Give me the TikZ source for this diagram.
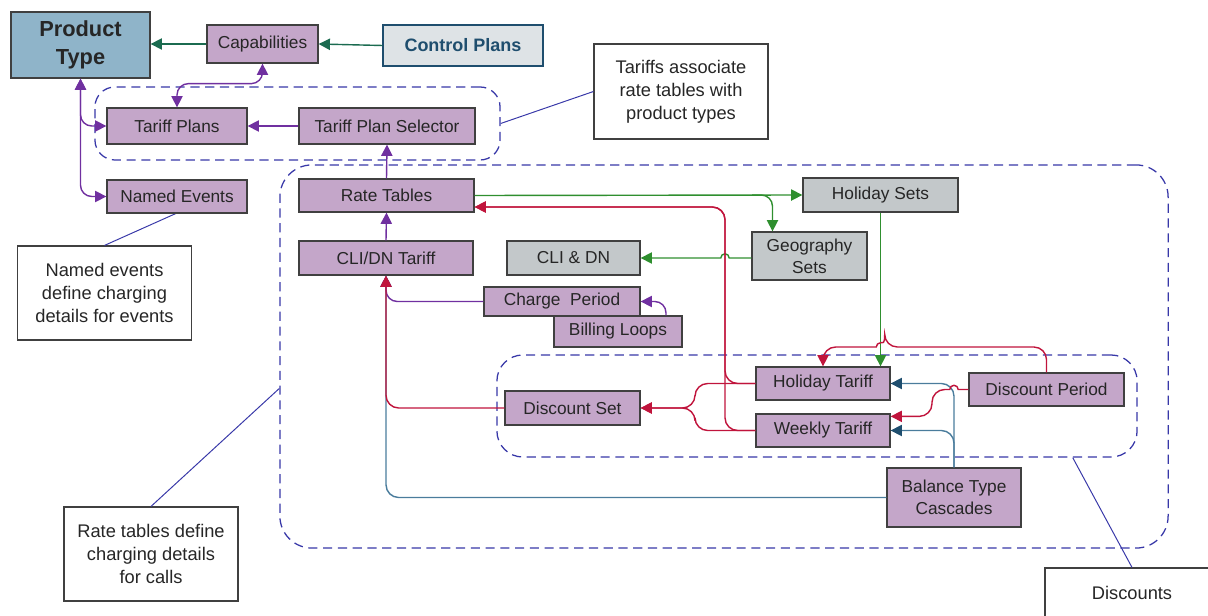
\documentclass[tikz,border=0pt]{standalone}
\usepackage{fontspec}
\setmainfont{Liberation Sans}
\usetikzlibrary{shapes,arrows.meta,calc}
\definecolor{lilac}{HTML}{C4A6C9}
\definecolor{slate}{HTML}{C3C8CA}
\definecolor{steel}{HTML}{8FB4C9}
\definecolor{pale}{HTML}{DEE3E6}
\definecolor{navy}{HTML}{1F4E6E}
\definecolor{dkgreen}{HTML}{1B6B50}
\definecolor{lgreen}{HTML}{2F8F2F}
\definecolor{plum}{HTML}{7030A0}
\definecolor{crimson}{HTML}{C0143C}
\definecolor{bluegray}{HTML}{4A7C9C}
\definecolor{grpblue}{HTML}{3838A8}

\begin{document}
\begin{tikzpicture}[x=0.025cm,y=-0.025cm,>={Triangle[length=8pt,width=8pt]}]
\tikzstyle{ent}=[rectangle,draw=black!75,line width=0.9pt,fill=lilac,text=black!85,minimum width=#1,minimum height=0.85cm,inner sep=1pt,font=\fontsize{12.3}{15.5}\selectfont,align=center]
\tikzstyle{gset}=[ent=#1,fill=slate]
\tikzstyle{notebox}=[rectangle,draw=black!75,line width=0.8pt,fill=white,text=black!85,minimum width=4.35cm,minimum height=2.35cm,font=\fontsize{13}{16.4}\selectfont,align=center]
\tikzstyle{grp}=[rectangle,draw=grpblue,dash pattern=on 6.5pt off 4pt,line width=0.9pt,inner sep=0pt,rounded corners=#1]
\tikzstyle{callout}=[draw=grpblue,line width=0.7pt]
\tikzstyle{purp}=[draw=plum,line width=1pt,rounded corners=8pt]
\tikzstyle{gline}=[draw=lgreen,line width=1pt,rounded corners=8pt]
\tikzstyle{rline}=[draw=crimson,line width=1pt,rounded corners=9pt]
\tikzstyle{bline}=[draw=bluegray,line width=1pt,rounded corners=9pt,>={Triangle[length=8pt,width=8pt,color=navy]}]
\useasboundingbox (0,0) rectangle (1208,616);

\node[grp=0.5cm,minimum width=10.125cm,minimum height=1.825cm](gplans) at (297.5,123.5) {};
\node[grp=0.8cm,minimum width=22.2cm,minimum height=9.575cm](gbig) at (724,356.5) {};
\node[grp=0.65cm,minimum width=16cm,minimum height=2.55cm](gdisc) at (817,406) {};

\node[notebox,minimum height=2.375cm](ntariffs) at (681,91.5) {Tariffs associate\\rate tables with\\product types};
\node[notebox](nnamed) at (104.5,293) {Named events\\define charging\\details for events};
\node[notebox](nrates) at (151,554) {Rate tables define\\charging details\\for calls};
\node[notebox,minimum height=1.25cm](ndisc) at (1132,593) {Discounts};

\draw[callout] (gplans.east) -- (ntariffs.west);
\draw[callout] (177,213) -- (nnamed.north);
\draw[callout] ($(gbig.west)+(0,32)$) -- (nrates.north);
\draw[callout] ($(gdisc.south east)+(-65,0)$) -- (ndisc.north);

\node[ent=3.475cm,minimum height=1.65cm,fill=steel,font=\fontsize{15.5}{20}\selectfont\bfseries](ptype) at (80.5,45) {Product\\Type};
\node[ent=2.775cm,minimum height=0.95cm](capab) at (262.5,44) {Capabilities};
\node[ent=4cm,minimum height=1.025cm,fill=pale,draw=navy,text=navy,font=\fontsize{12.8}{15}\selectfont\bfseries](ctrl) at (463,45.5) {Control Plans};
\node[ent=3.5cm,minimum height=0.9cm](tplans) at (177,126) {Tariff Plans};
\node[ent=4.4cm,minimum height=0.9cm](tpsel) at (387,126) {Tariff Plan Selector};
\node[ent=3.5cm,minimum height=0.825cm](nevents) at (177,196.5) {Named Events};
\node[ent=4.375cm,minimum height=0.825cm](rtables) at (386.5,195.5) {Rate Tables};
\node[ent=4.35cm](clidn) at (386,258) {CLI/DN Tariff};
\node[gset=3.325cm](clianddn) at (573.5,258) {CLI \& DN};
\node[ent=3.9cm,minimum height=0.725cm](chperiod) at (562,301.5) {Charge\ \ Period};
\node[ent=3.2cm,minimum height=0.775cm](bloops) at (618,331.5) {Billing Loops};
\node[gset=3.875cm](hsets) at (880.5,195) {Holiday Sets};
\node[gset=2.875cm,minimum height=1.2cm](geosets) at (809.5,256) {Geography\\Sets};
\node[ent=3.35cm,minimum height=0.825cm](htariff) at (823,383.5) {Holiday Tariff};
\node[ent=3.35cm,minimum height=0.825cm](wtariff) at (823,430.5) {Weekly Tariff};
\node[ent=3.875cm,minimum height=0.825cm](dperiod) at (1046.5,389.5) {Discount Period};
\node[ent=3.375cm](dset) at (572.5,408) {Discount Set};
\node[ent=3.35cm,minimum height=1.475cm](btc) at (954,497.5) {Balance Type\\Cascades};

\draw[->,dkgreen,line width=1pt] (capab.west) -- (ptype.east |- capab.west);
\draw[->,dkgreen,line width=1pt] (ctrl.west) -- (capab.east);

\draw[bline,->] (btc.west) -| (clidn.south);
\draw[bline,->] (btc.north) |- (htariff.east);
\draw[bline,->] (btc.north) |- (wtariff.east);

\draw[purp,<->] (ptype.south) |- (tplans.west);
\draw[purp,<->] (ptype.south) |- (nevents.west);
\draw[purp,<->] (capab.south) -- ++(0,20) -| (tplans.north);
\draw[purp,->] (tpsel.west) -- (tplans.east);
\draw[purp,->] (rtables.north) -- (tpsel.south);
\draw[purp,->] (clidn.north) -- (rtables.south);
\draw[purp,->] (chperiod.west) -| (clidn.south);
\draw[purp,->] ($(bloops.north)+(48,0)$) |- (chperiod.east);

\coordinate (gsplit) at (752,195);
\draw[gline,->] (rtables.east) -- (hsets.west);
\draw[gline,->] (gsplit) -| ($(geosets.north)+(-37,0)$);
\draw[gline,->] (clianddn.east -| geosets.west) [sharp corners] -- (729.2,258) arc[start angle=0,end angle=180,radius=3pt] -- (clianddn.east);
\draw[gline,->] (hsets.south) -- (hsets.south |- htariff.north);

\draw[rline,->] (dset.west) -| (clidn.south);
\draw[rline,->] (htariff.west) -| (725,207) -- ($(rtables.east)+(0,11.5)$);
\draw[rline,->] (wtariff.west) -| (725,207) -- ($(rtables.east)+(0,11.5)$);
\draw[rline,->] (htariff.west) -| (695,408) -- (dset.east);
\draw[rline,->] (wtariff.west) -| (695,408) -- (dset.east);
\draw[rline,->] (dperiod.north) |- (884.7,347) [sharp corners] arc[start angle=0,end angle=180,radius=3pt] [rounded corners=9pt] -| (htariff.north);
\draw[rline,->] (dperiod.west) [sharp corners] -- (958.2,389.5) arc[start angle=0,end angle=180,radius=3pt] [rounded corners=9pt] -- (932,389.5) |- ($(wtariff.north east)+(0,3)$);
\end{tikzpicture}
\end{document}
